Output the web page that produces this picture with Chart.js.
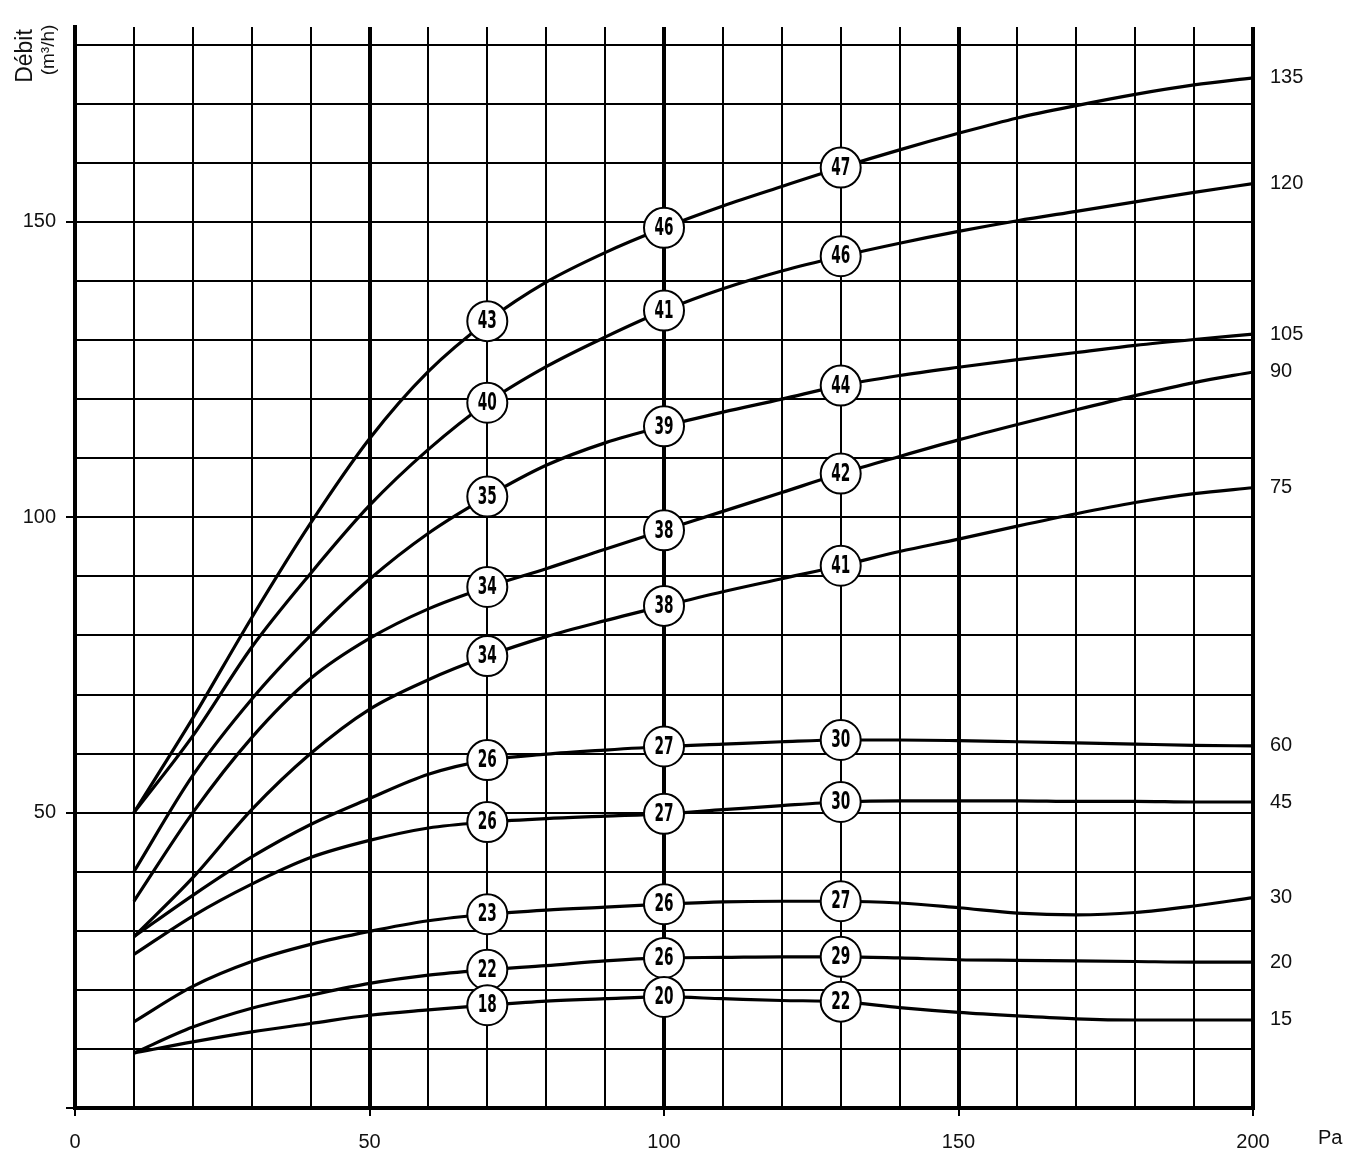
<!DOCTYPE html>
<html>
<head>
<meta charset="utf-8">
<script src="https://cdn.jsdelivr.net/npm/chart.js@4.4.1/dist/chart.umd.min.js"></script>
<style>
  html, body { margin: 0; padding: 0; background: #fff; }
  #wrap { width: 1351px; height: 1162px; position: relative; }
</style>
</head>
<body>
<div id="wrap"><canvas id="c" width="1351" height="1162"></canvas></div>
<script>
// Pressure (Pa) sample points
const xs = [10,20,30,40,50,60,70,80,90,100,110,120,130,140,150,160,170,180,190,200];

// Flow (m3/h) per curve
const s135 = [50,66,83,99,113.3,124.7,133.2,139.8,144.8,149,152.7,156,159.2,162.2,165,167.6,169.7,171.6,173.2,174.4];
const s120 = [50,63,78,90.5,102,111.5,119.4,125.5,130.5,135,138.7,141.7,144.2,146.4,148.4,150.2,151.8,153.4,155,156.5];
const s105 = [40,56.3,69.2,80,89.5,97.3,103.5,108.8,112.6,115.4,117.8,120,122.3,124,125.4,126.7,127.9,129.1,130.1,131];
const s90  = [35,50,62.7,72.7,79.5,84.5,88.2,91.3,94.6,97.8,101,104.2,107.4,110.3,113.1,115.7,118.2,120.6,122.8,124.6];
const s75  = [29,39,50.5,60,67.5,72.5,76.5,79.8,82.5,85,87.4,89.6,91.8,94.2,96.3,98.5,100.6,102.5,104,105];
const s60  = [29,36,42.5,48,52.4,56.5,58.9,59.9,60.6,61.2,61.6,62,62.3,62.3,62.2,62,61.8,61.6,61.4,61.3];
const s45  = [26,32.5,37.9,42.4,45.3,47.4,48.4,49,49.4,49.8,50.5,51.2,51.8,52,52,52,51.9,51.9,51.8,51.8];
const s30  = [14.6,20.6,24.8,27.7,29.9,31.7,32.8,33.5,34,34.5,34.9,35,35,34.7,33.9,33,32.7,33.1,34.2,35.6];
const s20  = [9.3,13.7,16.9,19.1,21.1,22.5,23.4,24.1,24.9,25.4,25.5,25.6,25.6,25.4,25.1,25,24.9,24.8,24.7,24.7];
const s15  = [9.3,11.2,12.9,14.3,15.7,16.6,17.4,18.1,18.5,18.8,18.5,18.2,18,17,16.2,15.6,15.1,14.9,14.9,14.9];

// Curve names (right-hand labels)
const curveNames = ['135','120','105','90','75','60','45','30','20','15'];
const curveData  = [s135,s120,s105,s90,s75,s60,s45,s30,s20,s15];

// Circled values at given pressures
const badgeX = [70,100,130];
const badges = [
  [43,46,47],[40,41,46],[35,39,44],[34,38,42],[34,38,41],
  [26,27,30],[26,27,30],[23,26,27],[22,26,29],[18,20,22]
];

// Axis tick values
const xTickLabels = [0,50,100,150,200];
const yTickLabels = [50,100,150];
const xUnit = 'Pa';
const yTitle1 = 'Débit';
const yTitle2 = '(m³/h)';

const datasets = curveData.map((arr, i) => ({
  label: curveNames[i],
  data: xs.map((x, j) => ({x: x, y: arr[j]})),
  borderColor: '#000',
  borderWidth: 3.2,
  pointRadius: 0,
  fill: false,
  cubicInterpolationMode: 'monotone'
}));

const overlay = {
  id: 'overlay',
  afterDatasetsDraw(chart) {
    const ctx = chart.ctx;
    const xS = chart.scales.x, yS = chart.scales.y;
    // right-side curve labels
    ctx.save();
    ctx.fillStyle = '#111';
    ctx.font = '20px "Liberation Sans", Arial, sans-serif';
    ctx.textAlign = 'left';
    ctx.textBaseline = 'middle';
    curveData.forEach((arr, i) => {
      const y = yS.getPixelForValue(arr[arr.length - 1]);
      ctx.fillText(curveNames[i], xS.right + 17, y);
    });
    ctx.restore();

    // circled values
    ctx.save();
    const fnt = 'bold 24px "Liberation Sans Narrow", "DejaVu Sans Condensed", "Liberation Sans", sans-serif';
    ctx.font = fnt;
    const w00 = ctx.measureText('00').width;
    const sx = Math.min(1, 19 / w00);
    curveData.forEach((arr, i) => {
      badgeX.forEach((bx, k) => {
        const j = xs.indexOf(bx);
        const px = xS.getPixelForValue(bx);
        const py = yS.getPixelForValue(arr[j]);
        ctx.beginPath();
        ctx.arc(px, py, 20, 0, Math.PI * 2);
        ctx.fillStyle = '#fff';
        ctx.fill();
        ctx.lineWidth = 2;
        ctx.strokeStyle = '#000';
        ctx.stroke();
        ctx.save();
        ctx.translate(px, py + 1);
        ctx.scale(sx, 1);
        ctx.font = fnt;
        ctx.fillStyle = '#000';
        ctx.textAlign = 'center';
        ctx.textBaseline = 'middle';
        ctx.fillText(String(badges[i][k]), 0, 0);
        ctx.restore();
      });
    });
    ctx.restore();

    // unit and axis title
    ctx.save();
    ctx.fillStyle = '#111';
    ctx.font = '20px "Liberation Sans", Arial, sans-serif';
    ctx.textAlign = 'left';
    ctx.textBaseline = 'middle';
    ctx.fillText(xUnit, xS.right + 65, yS.bottom + 30);
    ctx.translate(26, 56);
    ctx.rotate(-Math.PI / 2);
    ctx.textAlign = 'center';
    ctx.font = '23px "Liberation Sans", Arial, sans-serif';
    ctx.fillText(yTitle1, 0, 0);
    ctx.font = '19px "Liberation Sans", Arial, sans-serif';
    ctx.fillText(yTitle2, 6, 23);
    ctx.restore();
  }
};

new Chart(document.getElementById('c'), {
  type: 'line',
  data: { datasets: datasets },
  plugins: [overlay],
  options: {
    responsive: false,
    animation: false,
    events: [],
    layout: { padding: { left: 0, right: 98, top: 27, bottom: 0 } },
    plugins: { legend: { display: false }, tooltip: { enabled: false } },
    scales: {
      x: {
        type: 'linear',
        min: 0, max: 200,
        afterFit(s) { s.height = 54; },
        border: { display: true, color: '#000', width: 4 },
        grid: {
          color: '#000',
          lineWidth: c => (c.tick && c.tick.value % 50 === 0) ? 4 : 2,
          tickLength: 8,
          tickWidth: 2,
          tickColor: c => (c.tick && xTickLabels.includes(c.tick.value)) ? '#000' : 'rgba(0,0,0,0)'
        },
        ticks: {
          stepSize: 10,
          autoSkip: false,
          maxRotation: 0,
          padding: 14,
          color: '#111',
          font: { family: '"Liberation Sans", Arial, sans-serif', size: 20 },
          callback: v => xTickLabels.includes(v) ? String(v) : ''
        }
      },
      y: {
        type: 'linear',
        min: 0, max: 183,
        afterFit(s) { s.width = 75; },
        border: { display: true, color: '#000', width: 4 },
        grid: {
          color: '#000',
          lineWidth: 2,
          tickLength: 9,
          tickWidth: 2,
          tickColor: c => (c.tick && (yTickLabels.includes(c.tick.value) || c.tick.value === 0)) ? '#000' : 'rgba(0,0,0,0)'
        },
        ticks: {
          stepSize: 10,
          includeBounds: false,
          autoSkip: false,
          padding: 10,
          color: '#111',
          font: { family: '"Liberation Sans", Arial, sans-serif', size: 20 },
          callback: v => yTickLabels.includes(v) ? String(v) : ''
        }
      }
    }
  }
});
</script>
</body>
</html>
